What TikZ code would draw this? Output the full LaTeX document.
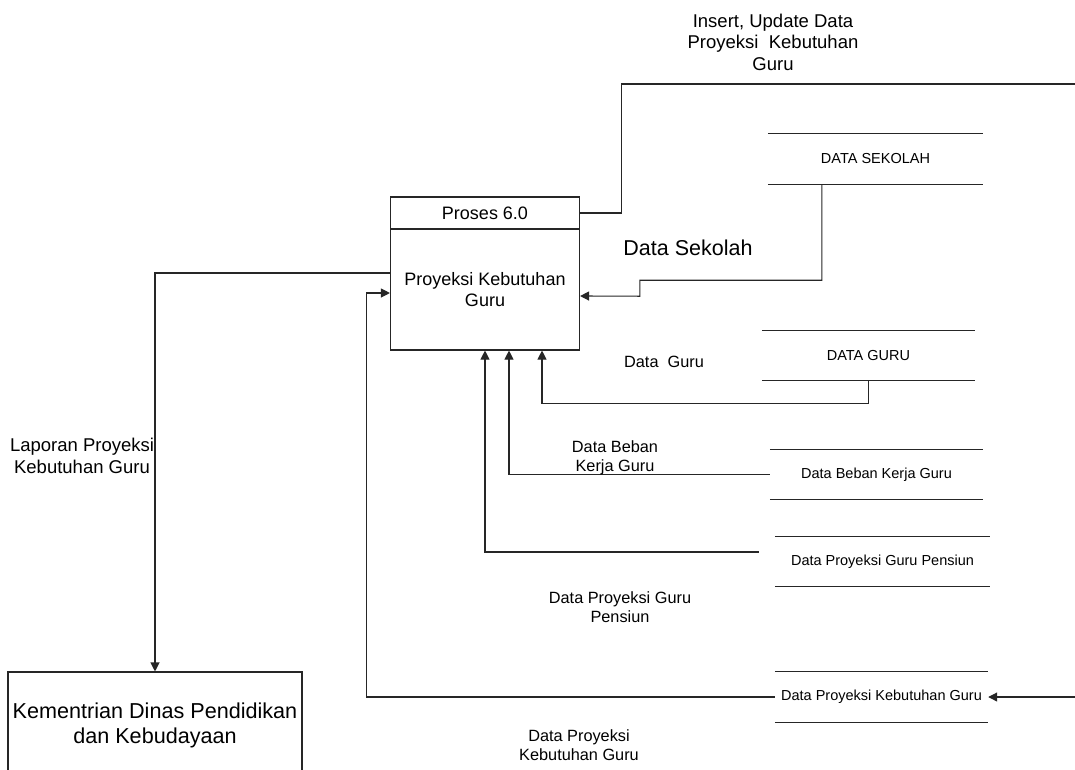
\documentclass[tikz,border=0pt]{standalone}
\usepackage{fontspec}
\setmainfont{Liberation Sans}
\usetikzlibrary{arrows.meta,calc}

\begin{document}
\begin{tikzpicture}[
    x=1pt, y=-1pt,
    every node/.style={inner sep=0pt},
    line/.style={draw=black!85, line width=1.1pt},
    arrow/.style={line, -{Triangle[length=9pt, width=9pt]}},
    proc_head/.style={rectangle, draw=black!85, line width=1.1pt, minimum width=189pt, minimum height=32pt, font=\fontsize{18}{21}\selectfont},
    proc_body/.style={rectangle, draw=black!85, line width=1.1pt, minimum width=189pt, minimum height=121pt, align=center, font=\fontsize{18}{21}\selectfont},
    store/.style={rectangle, minimum width=213pt, minimum height=50pt, font=\fontsize{14.5}{17}\selectfont},
    entity/.style={rectangle, draw=black!85, line width=1.1pt, minimum width=294pt, minimum height=106pt, align=center, font=\fontsize{21.6}{25}\selectfont},
    flow_label/.style={align=center, font=\fontsize{16.3}{19.5}\selectfont},
    big_label/.style={align=center, font=\fontsize{18.5}{21.5}\selectfont}
]
\useasboundingbox (0,0) rectangle (1075,769);
\clip (0,0) rectangle (1075,769);

% Process 6.0
\node[proc_head] (proses_head) at (485,213) {Proses 6.0};
\node[proc_body] (proses) at (485,289.5) {Proyeksi Kebutuhan\\Guru};

% Data stores (open-ended, lines drawn below)
\node[store, minimum width=215pt] (ds_sekolah) at (875.5,159) {DATA SEKOLAH};
\node[store] (ds_guru) at (868.5,355.5) {DATA GURU};
\node[store] (ds_beban) at (876.5,474.5) {Data Beban Kerja Guru};
\node[store, minimum width=215pt] (ds_pensiun) at (882.5,561.5) {Data Proyeksi Guru Pensiun};
\node[store] (ds_kebutuhan) at (881.5,697) {Data Proyeksi Kebutuhan Guru};

\foreach \s in {ds_sekolah, ds_guru, ds_beban, ds_pensiun, ds_kebutuhan}
    \draw[line] (\s.north west) -- (\s.north east) (\s.south west) -- (\s.south east);

% External entity
\node[entity] (kementrian) at (155,725) {Kementrian Dinas Pendidikan\\dan Kebudayaan};

% Free ends at the right border
\coordinate (insert_out) at (1075,84);
\coordinate (kebutuhan_in) at (1075,697);

% Insert / update flow
\draw[line] (proses_head.east) -- ++(41,0) |- (insert_out);

% Flows from the data stores into the process
\draw[arrow] ([xshift=54pt]ds_sekolah.south west) -- ++(0,96) -| ++(-182,16) -- ([yshift=-6.5pt]proses.east);
\draw[arrow] (ds_guru.south) -- ++(0,23) -| ([xshift=57pt]proses.south);
\draw[arrow] (ds_beban.west) -| ([xshift=24pt]proses.south);
\draw[arrow] ([shift={(-16pt,9.5pt)}]ds_pensiun.west) -| (proses.south);
\draw[arrow] (ds_kebutuhan.west) -- ++(-408,0) |- ([yshift=-3.5pt]proses.west);
\draw[arrow] (kebutuhan_in) -- (ds_kebutuhan.east);

% Report to the ministry
\draw[arrow] ([yshift=16.5pt]proses.west) -| (kementrian.north);

% Flow labels
\node[big_label] (lbl_insert) at (773,42) {Insert, Update Data\\Proyeksi~~Kebutuhan\\Guru};
\node[font=\fontsize{21.5}{25}\selectfont] (lbl_sekolah) at (688,248) {Data Sekolah};
\node[flow_label] (lbl_guru) at (664,362) {Data~~Guru};
\node[flow_label] (lbl_beban) at (615,458) {Data Beban\\Kerja Guru};
\node[flow_label] (lbl_pensiun) at (620,607) {Data Proyeksi Guru\\Pensiun};
\node[flow_label] (lbl_kebutuhan) at (579,745) {Data Proyeksi\\Kebutuhan Guru};
\node[big_label] (lbl_laporan) at (82,456) {Laporan Proyeksi\\Kebutuhan Guru};

\end{tikzpicture}
\end{document}
